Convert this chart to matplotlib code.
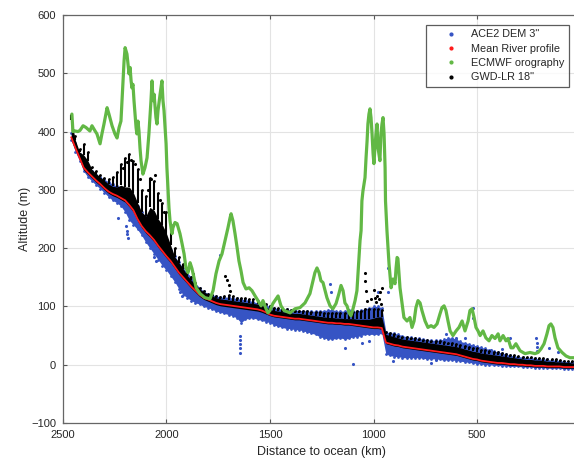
import matplotlib
matplotlib.use("Agg")
import matplotlib.pyplot as plt
from matplotlib.lines import Line2D

plt.rcParams['font.family'] = ['Liberation Sans', 'DejaVu Sans']

# ---------------- data ----------------
dist = [2460, 2440, 2420, 2400, 2380, 2360, 2340, 2320, 2300, 2280, 2260, 2240, 2220, 2200,
        2180, 2160, 2140, 2120, 2100, 2080, 2060, 2040, 2020, 2000, 1980, 1960, 1940, 1920,
        1900, 1880, 1860, 1840, 1820, 1800, 1780, 1760, 1740, 1720, 1700, 1680, 1660, 1640,
        1620, 1600, 1580, 1560, 1540, 1520, 1500, 1480, 1460, 1440, 1420, 1400, 1380, 1360,
        1340, 1320, 1300, 1280, 1260, 1240, 1220, 1200, 1180, 1160, 1140, 1120, 1100, 1080,
        1060, 1040, 1020, 1000, 980, 960, 940, 920, 900, 880, 860, 840, 820, 800,
        780, 760, 740, 720, 700, 680, 660, 640, 620, 600, 580, 560, 540, 520,
        500, 480, 460, 440, 420, 400, 380, 360, 340, 320, 300, 280, 260, 240,
        220, 200, 180, 160, 140, 120, 100, 80, 60, 40, 20, 0]

mean_profile = [390, 372, 355, 338, 330, 323, 316, 310, 303, 297, 293, 290, 286, 282,
                274, 265, 250, 238, 229, 222, 214, 204, 195, 186, 178, 168, 158, 150,
                142, 134, 127, 120, 115, 112, 109, 106, 104, 103, 102, 101, 100, 99,
                98, 97, 96, 95, 93, 90, 86, 84, 83, 82, 81, 80, 79, 79,
                78, 77, 76, 75, 74, 73, 72, 72, 71, 71, 70, 70, 69, 68,
                67, 66, 65, 64, 64, 63, 38, 36, 34, 33, 31, 30, 29, 28,
                27, 26, 25, 24, 23, 22, 21, 20, 19, 18, 16, 14, 12, 10,
                9, 7, 6, 5, 4, 3, 3, 2, 1, 1, 0, 0, -1, -1,
                -2, -2, -2, -3, -3, -3, -3, -4, -4, -4, -4, -4]

ace_lo = [385, 365, 350, 332, 322, 315, 308, 302, 295, 288, 282, 278, 272, 262,
          248, 240, 232, 222, 210, 200, 190, 180, 170, 162, 152, 142, 130, 120,
          115, 110, 106, 104, 100, 98, 95, 92, 90, 88, 86, 84, 80, 72,
          78, 80, 80, 78, 76, 74, 72, 68, 66, 64, 62, 62, 60, 60,
          58, 56, 54, 52, 48, 46, 44, 44, 45, 46, 44, 45, 48, 48,
          50, 52, 52, 52, 52, 54, 18, 16, 14, 14, 12, 12, 12, 12,
          12, 11, 10, 10, 10, 9, 8, 8, 8, 7, 6, 5, 4, 3,
          2, 1, 0, 0, -1, -1, -2, -2, -3, -3, -3, -4, -4, -4,
          -5, -5, -5, -6, -6, -6, -6, -7, -7, -7, -7, -7]

ace_hi = [398, 380, 362, 345, 340, 333, 326, 322, 318, 314, 310, 306, 302, 298,
          292, 285, 272, 262, 255, 245, 236, 226, 218, 208, 196, 186, 176, 166,
          158, 150, 140, 132, 126, 122, 120, 118, 116, 116, 116, 114, 114, 112,
          112, 110, 108, 106, 104, 102, 100, 98, 96, 96, 95, 94, 94, 93,
          93, 92, 92, 92, 92, 93, 94, 95, 92, 92, 92, 94, 92, 92,
          94, 96, 98, 100, 100, 98, 56, 55, 54, 52, 50, 48, 47, 46,
          45, 44, 43, 42, 42, 42, 44, 46, 46, 44, 40, 38, 36, 34,
          32, 30, 28, 26, 24, 22, 20, 18, 16, 15, 14, 13, 12, 12,
          11, 10, 10, 9, 8, 8, 7, 6, 5, 5, 4, 4]

gwd_lo = [385, 368, 352, 334, 327, 320, 313, 307, 300, 294, 290, 287, 283, 279,
          271, 262, 247, 235, 226, 219, 211, 201, 192, 183, 175, 165, 155, 147,
          139, 131, 124, 117, 112, 109, 106, 103, 101, 100, 99, 98, 97, 96,
          95, 94, 93, 92, 90, 87, 84, 82, 81, 80, 79, 78, 77, 77,
          76, 75, 74, 73, 72, 71, 70, 70, 69, 69, 68, 68, 67, 66,
          65, 64, 63, 62, 62, 61, 36, 34, 32, 31, 29, 28, 27, 26,
          25, 24, 23, 22, 21, 20, 19, 18, 17, 16, 14, 12, 10, 8,
          7, 5, 4, 3, 2, 1, 1, 0, -1, -1, -2, -2, -3, -3,
          -4, -4, -4, -5, -5, -5, -5, -6, -6, -6, -6, -6]

gwd_dense_hi = [420, 385, 365, 360, 350, 335, 328, 322, 316, 310, 306, 305, 308, 305,
                305, 295, 278, 262, 255, 270, 265, 250, 240, 225, 205, 185, 175, 165,
                153, 145, 137, 130, 125, 121, 118, 115, 113, 112, 111, 110, 109, 108,
                107, 106, 105, 104, 102, 99, 95, 93, 92, 91, 90, 89, 88, 88,
                87, 86, 85, 84, 83, 82, 81, 81, 80, 80, 79, 79, 79, 78,
                78, 78, 78, 80, 82, 82, 52, 50, 48, 46, 44, 43, 42, 41,
                40, 39, 38, 37, 36, 35, 34, 33, 32, 31, 29, 27, 25, 23,
                22, 20, 19, 18, 17, 16, 15, 14, 13, 12, 11, 10, 9, 9,
                8, 8, 7, 6, 6, 5, 5, 4, 4, 3, 3, 3]

gwd_hi = [428, 392, 370, 379, 365, 340, 332, 325, 320, 318, 322, 330, 345, 355,
          362, 350, 335, 300, 290, 320, 315, 295, 278, 262, 240, 200, 185, 172,
          160, 150, 140, 132, 126, 122, 120, 118, 116, 118, 120, 118, 115, 114,
          114, 113, 112, 110, 108, 104, 100, 98, 97, 96, 95, 94, 93, 93,
          92, 92, 91, 90, 90, 89, 88, 88, 88, 88, 88, 90, 90, 92,
          92, 95, 95, 96, 95, 94, 56, 54, 52, 50, 48, 47, 46, 45,
          44, 43, 42, 41, 40, 40, 39, 38, 37, 36, 34, 32, 30, 29,
          28, 26, 25, 24, 22, 21, 20, 18, 17, 16, 15, 14, 13, 13,
          12, 12, 11, 10, 10, 9, 8, 7, 6, 6, 5, 5]

ace_out_d = [2235, 2195, 2192, 2190, 2188, 2060, 2050, 1935, 1925, 1740, 1645, 1645, 1645,
             1644, 1643, 1210, 1205, 1138, 1099, 1056, 1020, 978, 930, 930, 906, 722,
             700, 650, 600, 560, 519, 519, 430, 380, 341, 215, 212, 210, 208, 150, 109]
ace_out_alt = [252, 238, 230, 224, 218, 185, 178, 124, 118, 188, 50, 42, 35,
               28, 20, 138, 125, 29, 1, 38, 40, 124, 166, 124, 7, 3,
               8, 52, 46, 46, 98, 81, 25, 27, 46, 46, 38, 30, 24, 28, 21]

gwd_out_d = [1872, 1717, 1708, 1700, 1693, 1041, 1039, 1036, 1033, 1010, 1000, 995, 990,
             985, 975, 970, 965, 958, 2170, 2150, 2075, 2055, 2030, 2210, 2190, 2130,
             2090, 2010]
gwd_out_alt = [156, 153, 145, 136, 127, 158, 144, 127, 110, 112, 128, 115, 108,
               118, 112, 125, 105, 132, 352, 345, 318, 325, 282, 338, 348, 318,
               300, 262]

ecmwf_d = [2457, 2452, 2442, 2428, 2418, 2403, 2389, 2370, 2360, 2345, 2336, 2321, 2312,
           2302, 2287, 2278, 2263, 2249, 2239, 2229, 2220, 2215, 2210, 2205, 2200, 2191,
           2186, 2181, 2176, 2171, 2167, 2162, 2157, 2152, 2147, 2143, 2138, 2133, 2128,
           2123, 2114, 2104, 2094, 2085, 2075, 2070, 2065, 2060, 2051, 2046, 2041, 2031,
           2022, 2017, 2012, 2007, 2002, 1998, 1993, 1988, 1983, 1978, 1973, 1969, 1959,
           1949, 1935, 1925, 1915, 1906, 1896, 1886, 1877, 1867, 1857, 1838, 1814, 1790,
           1775, 1761, 1746, 1732, 1717, 1703, 1693, 1688, 1679, 1669, 1659, 1650, 1640,
           1630, 1616, 1601, 1587, 1572, 1558, 1543, 1534, 1519, 1510, 1500, 1486, 1471,
           1461, 1447, 1432, 1403, 1379, 1355, 1331, 1307, 1292, 1283, 1273, 1263, 1254,
           1244, 1234, 1225, 1210, 1196, 1181, 1167, 1157, 1147, 1138, 1128, 1118, 1109,
           1099, 1089, 1080, 1075, 1070, 1065, 1060, 1056, 1051, 1041, 1036, 1031, 1027,
           1022, 1017, 1012, 1007, 1002, 998, 993, 988, 983, 978, 969, 964, 959,
           954, 949, 944, 942, 935, 925, 915, 906, 896, 891, 886, 882, 872,
           862, 853, 838, 824, 814, 804, 795, 785, 775, 766, 751, 737, 722,
           708, 693, 679, 669, 659, 650, 640, 630, 616, 601, 587, 572, 558,
           543, 534, 524, 514, 505, 495, 485, 471, 457, 442, 428, 413, 398,
           389, 374, 360, 350, 336, 326, 312, 292, 268, 244, 220, 205, 191,
           176, 162, 152, 143, 133, 123, 109, 89, 70, 51, 31]
ecmwf_alt = [430, 400, 401, 400, 402, 410, 407, 401, 410, 401, 396, 379, 396,
             413, 441, 430, 410, 396, 389, 407, 418, 453, 487, 521, 544, 533,
             516, 499, 510, 487, 475, 481, 453, 430, 407, 396, 418, 401, 372,
             350, 327, 338, 355, 396, 453, 487, 453, 464, 424, 413, 436, 464,
             487, 453, 436, 407, 379, 338, 304, 269, 247, 235, 225, 235, 244,
             242, 225, 208, 190, 166, 158, 175, 165, 149, 132, 122, 115, 113,
             127, 156, 178, 190, 213, 235, 252, 259, 247, 225, 201, 178, 161,
             141, 130, 132, 127, 118, 110, 101, 110, 96, 89, 93, 105, 113,
             118, 101, 93, 89, 96, 98, 106, 122, 144, 158, 166, 158, 144,
             141, 127, 115, 101, 96, 105, 122, 136, 127, 106, 101, 89, 84,
             96, 110, 127, 156, 184, 213, 230, 281, 298, 321, 355, 384, 413,
             430, 439, 424, 396, 362, 345, 372, 396, 413, 372, 350, 396, 413,
             424, 396, 338, 281, 230, 173, 132, 147, 139, 166, 184, 182, 132,
             105, 81, 75, 81, 64, 75, 98, 110, 106, 93, 75, 64, 67,
             64, 70, 87, 98, 101, 93, 75, 58, 50, 58, 64, 75, 58,
             75, 93, 96, 81, 64, 58, 50, 58, 46, 41, 50, 45, 53,
             41, 50, 41, 45, 29, 29, 36, 24, 19, 21, 19, 21, 27,
             36, 53, 67, 70, 64, 46, 29, 21, 15, 12, 12]

labels = ['ACE2 DEM 3"', 'Mean River profile', 'ECMWF orography', 'GWD-LR 18"']
x_ticks = [2500, 2000, 1500, 1000, 500]
y_ticks = [-100, 0, 100, 200, 300, 400, 500, 600]

# ---------------- style ----------------
c_blue = '#3654c4'
c_red = '#ff1a1a'
c_green = '#62b845'
c_black = '#000000'

fig = plt.figure(figsize=(5.74, 4.61), dpi=100)
ax = fig.add_axes([63 / 574, 38 / 461, 517.5 / 574, 408 / 461])

# ACE2 DEM cloud
ax.fill_between(dist, ace_lo, ace_hi, color=c_blue, lw=0, zorder=2)
ax.scatter(dist, ace_lo, s=4, color=c_blue, linewidths=0, zorder=2)
ax.scatter(dist, ace_hi, s=4, color=c_blue, linewidths=0, zorder=2)
ax.scatter(ace_out_d, ace_out_alt, s=5, color=c_blue, linewidths=0, zorder=2)
# GWD-LR cloud
ax.fill_between(dist, gwd_lo, gwd_dense_hi, color=c_black, lw=0, zorder=3)
ax.vlines(dist, gwd_dense_hi, gwd_hi, colors=c_black, linewidth=1.5, zorder=3)
ax.scatter(dist, gwd_hi, s=4, color=c_black, linewidths=0, zorder=3)
ax.scatter(gwd_out_d, gwd_out_alt, s=5, color=c_black, linewidths=0, zorder=3)
# mean river profile
ax.plot(dist, mean_profile, color=c_red, lw=1.3, zorder=4)
# ECMWF orography
ax.plot(ecmwf_d, ecmwf_alt, color=c_green, lw=2.3, zorder=5, solid_capstyle='round')

ax.set_xlim(2500, 0)
ax.set_ylim(-100, 600)
ax.set_xticks(x_ticks)
ax.set_yticks(y_ticks)
ax.tick_params(direction='in', length=3, width=0.8, colors='#555555',
               labelcolor='#262626', labelsize=8, top=True, right=False, pad=5)
for s in ax.spines.values():
    s.set_color('#666666')
    s.set_linewidth(0.9)
ax.grid(True, color='#e3e3e3', lw=0.8, zorder=0)
ax.set_axisbelow(True)

ax.set_xlabel('Distance to ocean (km)', fontsize=9, color='#262626', labelpad=4)
ax.set_ylabel('Altitude (m)', fontsize=9, color='#262626', labelpad=0)

handles = [Line2D([], [], ls='', marker='.', markersize=4, color=c)
           for c in (c_blue, c_red, c_green, c_black)]
leg = ax.legend(handles, labels, loc='upper right', bbox_to_anchor=(0.978, 0.976),
                fontsize=7.8, frameon=True, fancybox=False, edgecolor='#333333',
                borderaxespad=0, labelspacing=0.4, handlelength=3.8,
                handletextpad=-0.05, borderpad=0.42)
leg.get_frame().set_linewidth(0.9)
for t in leg.get_texts():
    t.set_color('#262626')

fig.savefig('out.png', dpi=100)
